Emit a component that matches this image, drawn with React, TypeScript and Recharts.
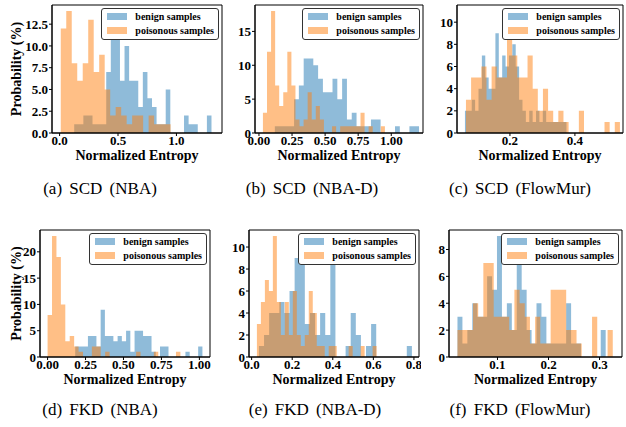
import React from 'react';
import { ComposedChart, Area, XAxis, YAxis, ReferenceArea } from 'recharts';

const FONT = '"Liberation Serif", "Times New Roman", serif';
const BLUE = '#1f77b4';
const ORANGE = '#ff7f0e';

// bin heights (%), bins are equal width over the range
// (a) SCD (NBA)
const scdNbaBenign = [1, 1, 2, 2, 1, 1, 1, 7, 11, 11, 6, 10, 6, 6, 3, 7, 4, 3, 1, 1, 5, 0, 0, 0, 2, 1, 1, 0, 0, 2];
const scdNbaPoison = [12, 14, 8, 6, 8, 13, 7, 9, 5, 2, 3, 2, 1, 2, 2, 0, 2, 1, 1, 1];
const scdNbaBenignRange = [0.125, 1.3];
const scdNbaPoisonRange = [0.01, 0.95];
const scdNbaXTicks = [0, 0.5, 1.0];
const scdNbaYTicks = [0, 2.5, 5, 7.5, 10, 12.5];

// (b) SCD (NBA-D)
const scdNbadBenign = [1, 1, 1, 1, 5, 7, 11, 11, 10, 8, 6, 6, 8, 5, 8, 2, 3, 1, 1, 1, 2, 2, 0, 0, 0, 1, 0, 0, 1, 1];
const scdNbadPoison = [3, 12, 18, 7, 4, 6, 12, 7, 2, 1, 2, 6, 2, 4, 2, 0, 0, 1, 0, 1, 1, 1, 1, 1, 3, 0, 1, 0, 0, 1];
const scdNbadBenignRange = [0.12, 1.21];
const scdNbadPoisonRange = [0.03, 0.952];
const scdNbadXTicks = [0, 0.25, 0.5, 0.75, 1.0];
const scdNbadYTicks = [0, 5, 10, 15];

// (c) SCD (FlowMur)
const scdFlowBenign = [2, 2, 3, 2, 4, 7, 5, 4, 4, 9, 5, 7, 6, 7, 8, 6, 3, 2, 1, 2, 1, 2, 1, 2, 1, 1, 1, 1, 1, 1];
const scdFlowPoison = [3, 5, 5, 6, 3, 6, 5, 5, 11, 7, 5, 5, 7, 4, 2, 4, 2, 1, 2, 1, 0, 0, 2, 0, 0, 0, 0, 1, 0, 1];
const scdFlowBenignRange = [0.0615, 0.374];
const scdFlowPoisonRange = [0.0646, 0.5385];
const scdFlowXTicks = [0.2, 0.4];
const scdFlowYTicks = [0, 2, 4, 6, 8, 10];

// (d) FKD (NBA)
const fkdNbaBenign = [2, 2, 2, 4, 4, 2, 9, 4, 4, 3, 4, 3, 5, 1, 5, 5, 4, 4, 1, 0, 2, 2, 0, 0, 0, 0, 1, 0, 0, 2];
const fkdNbaPoison = [8, 23, 19, 10, 3, 4, 2, 1, 0, 0, 2, 2, 0, 1, 0, 0, 0, 0, 0, 0, 1, 0, 0, 0, 1, 0, 0, 0, 0, 1];
const fkdNbaBenignRange = [0.182, 1.02];
const fkdNbaPoisonRange = [0.0, 0.875];
const fkdNbaXTicks = [0, 0.25, 0.5, 0.75, 1.0];
const fkdNbaYTicks = [0, 5, 10, 15, 20];

// (e) FKD (NBA-D)
const fkdNbadBenign = [1, 2, 4, 4, 5, 4, 6, 9, 10, 3, 4, 2, 4, 2, 10, 0, 0, 1, 4, 2, 0, 1, 3, 0, 0, 0, 0, 0, 0, 1];
const fkdNbadPoison = [3, 5, 7, 6, 11, 5, 2, 5, 2, 6, 2, 1, 2, 6, 4, 1, 1, 0, 1, 1, 0, 0, 0, 1, 0, 0, 1, 0, 0, 1];
const fkdNbadBenignRange = [0.036, 0.79];
const fkdNbadPoisonRange = [0.026, 0.616];
const fkdNbadXTicks = [0, 0.2, 0.4, 0.6, 0.8];
const fkdNbadYTicks = [0, 2, 4, 6, 8, 10];

// (f) FKD (FlowMur)
const fkdFlowBenign = [3, 1, 2, 4, 3, 3, 6, 5, 9, 3, 4, 2, 7, 5, 2, 1, 4, 3, 1, 1, 1, 1, 4, 1, 1, 0, 0, 0, 0, 2];
const fkdFlowPoison = [2, 2, 2, 4, 3, 7, 7, 3, 3, 3, 2, 5, 4, 3, 1, 3, 1, 1, 5, 5, 5, 2, 2, 1, 0, 0, 3, 0, 0, 2];
const fkdFlowBenignRange = [0.0216, 0.312];
const fkdFlowPoisonRange = [0.0216, 0.3259];
const fkdFlowXTicks = [0.1, 0.2, 0.3];
const fkdFlowYTicks = [0, 2, 4, 6, 8];

type Row = { x: number; benign?: number; poison?: number };

// turn bin heights into step points (bin edges), merged for both series
function histRows(benign: number[], bRange: number[], poison: number[], pRange: number[]): Row[] {
  const rows = new Map<number, Row>();
  const add = (heights: number[], range: number[], key: 'benign' | 'poison') => {
    const w = (range[1] - range[0]) / heights.length;
    for (let i = 0; i <= heights.length; i++) {
      const x = +(range[0] + i * w).toFixed(6);
      const r = rows.get(x) ?? { x };
      r[key] = heights[Math.min(i, heights.length - 1)];
      rows.set(x, r);
    }
  };
  add(benign, bRange, 'benign');
  add(poison, pRange, 'poison');
  return [...rows.values()].sort((a, b) => a.x - b.x);
}

const panels = [
  {
    id: 'a', caption: '(a) SCD (NBA)', benign: scdNbaBenign, poison: scdNbaPoison,
    bRange: scdNbaBenignRange, pRange: scdNbaPoisonRange, xDomain: [-0.065, 1.39], xTicks: scdNbaXTicks, xDigits: 1,
    yMax: 14.7, yTicks: scdNbaYTicks, yDigits: 1, left: 52, top: 5, w: 170, h: 128, yw: 52, yLabel: true, cx: 100, cy: 189,
  },
  {
    id: 'b', caption: '(b) SCD (NBA-D)', benign: scdNbadBenign, poison: scdNbadPoison,
    bRange: scdNbadBenignRange, pRange: scdNbadPoisonRange, xDomain: [-0.03, 1.24], xTicks: scdNbadXTicks, xDigits: 2,
    yMax: 18.9, yTicks: scdNbadYTicks, yDigits: 0, left: 255, top: 5, w: 168, h: 128, yw: 30, yLabel: false, cx: 312, cy: 189,
  },
  {
    id: 'c', caption: '(c) SCD (FlowMur)', benign: scdFlowBenign, poison: scdFlowPoison,
    bRange: scdFlowBenignRange, pRange: scdFlowPoisonRange, xDomain: [0.037, 0.548], xTicks: scdFlowXTicks, xDigits: 1,
    yMax: 11.55, yTicks: scdFlowYTicks, yDigits: 0, left: 457, top: 5, w: 166, h: 128, yw: 30, yLabel: false, cx: 520, cy: 189,
  },
  {
    id: 'd', caption: '(d) FKD (NBA)', benign: fkdNbaBenign, poison: fkdNbaPoison,
    bRange: fkdNbaBenignRange, pRange: fkdNbaPoisonRange, xDomain: [-0.05, 1.07], xTicks: fkdNbaXTicks, xDigits: 2,
    yMax: 24.15, yTicks: fkdNbaYTicks, yDigits: 0, left: 40, top: 230, w: 170, h: 127, yw: 40, yLabel: true, cx: 100, cy: 410,
  },
  {
    id: 'e', caption: '(e) FKD (NBA-D)', benign: fkdNbadBenign, poison: fkdNbadPoison,
    bRange: fkdNbadBenignRange, pRange: fkdNbadPoisonRange, xDomain: [-0.013, 0.825], xTicks: fkdNbadXTicks, xDigits: 1,
    yMax: 11.55, yTicks: fkdNbadYTicks, yDigits: 0, left: 249, top: 230, w: 170, h: 127, yw: 30, yLabel: false, cx: 315, cy: 410,
  },
  {
    id: 'f', caption: '(f) FKD (FlowMur)', benign: fkdFlowBenign, poison: fkdFlowPoison,
    bRange: fkdFlowBenignRange, pRange: fkdFlowPoisonRange, xDomain: [0.005, 0.344], xTicks: fkdFlowXTicks, xDigits: 1,
    yMax: 9.45, yTicks: fkdFlowYTicks, yDigits: 0, left: 449, top: 230, w: 173, h: 127, yw: 30, yLabel: false, cx: 520, cy: 410,
  },
];

const PAD = 2;
const XH = 32;
const tickStyle = { fontSize: 13, fontWeight: 700, fill: '#000', fontFamily: FONT };

function LegendBox({ right, top }: { right: number; top: number }) {
  const row = (color: string, text: string) => (
    <div style={{ display: 'flex', alignItems: 'center', height: 14 }}>
      <span style={{ width: 20, height: 7, background: color, opacity: 0.5, marginRight: 8 }} />
      <span>{text}</span>
    </div>
  );
  return (
    <div
      style={{
        position: 'absolute', right: 626 - right, top, padding: '1px 4px 1px 5px',
        border: '1px solid #333', borderRadius: 3, background: '#fff',
        fontFamily: FONT, fontWeight: 700, fontSize: 10, color: '#000', lineHeight: '14px',
      }}
    >
      {row(BLUE, 'benign samples')}
      {row(ORANGE, 'poisonous samples')}
    </div>
  );
}

function HistPanel({ p }: { p: (typeof panels)[number] }) {
  const rows = histRows(p.benign, p.bRange, p.poison, p.pRange);
  const chartLeft = p.left - p.yw;
  return (
    <>
      <div style={{ position: 'absolute', left: chartLeft, top: p.top - PAD }}>
        <ComposedChart
          width={p.yw + p.w + PAD}
          height={PAD + p.h + XH}
          data={rows}
          margin={{ top: PAD, right: PAD, bottom: 0, left: 0 }}
        >
          <XAxis
            type="number"
            dataKey="x"
            domain={p.xDomain}
            allowDataOverflow
            ticks={p.xTicks}
            interval={0}
            tickFormatter={(v: number) => v.toFixed(p.xDigits)}
            tick={tickStyle}
            tickSize={3}
            tickMargin={0}
            height={XH}
            axisLine={{ stroke: '#000' }}
            tickLine={{ stroke: '#000' }}
            label={{
              value: 'Normalized Entropy', position: 'insideBottom', offset: 5,
              fill: '#000', fontSize: 14, fontWeight: 700, fontFamily: FONT,
            }}
          />
          <YAxis
            type="number"
            domain={[0, p.yMax]}
            allowDataOverflow
            ticks={p.yTicks}
            interval={0}
            tickFormatter={(v: number) => v.toFixed(p.yDigits)}
            tick={tickStyle}
            tickSize={3}
            tickMargin={1}
            width={p.yw}
            axisLine={{ stroke: '#000' }}
            tickLine={{ stroke: '#000' }}
            label={
              p.yLabel
                ? {
                    value: 'Probability (%)', angle: -90, position: 'insideLeft', offset: 16 - chartLeft,
                    style: { textAnchor: 'middle' }, fill: '#000', fontSize: 14, fontWeight: 700, fontFamily: FONT,
                  }
                : undefined
            }
          />
          <Area
            type="stepAfter"
            dataKey="benign"
            connectNulls
            stroke="none"
            fill={BLUE}
            fillOpacity={0.5}
            dot={false}
            activeDot={false}
            isAnimationActive={false}
          />
          <Area
            type="stepAfter"
            dataKey="poison"
            connectNulls
            stroke="none"
            fill={ORANGE}
            fillOpacity={0.5}
            dot={false}
            activeDot={false}
            isAnimationActive={false}
          />
          <ReferenceArea
            x1={p.xDomain[0]}
            x2={p.xDomain[1]}
            y1={0}
            y2={p.yMax}
            fill="none"
            stroke="#000"
            strokeWidth={1}
          />
        </ComposedChart>
      </div>
      <LegendBox right={p.left + p.w - 3} top={p.top + 2.5} />
      <div
        style={{
          position: 'absolute', left: p.cx - 110, width: 220, top: p.cy - 10, lineHeight: '20px',
          textAlign: 'center', fontFamily: FONT, fontSize: 17, wordSpacing: 3, color: '#000',
        }}
      >
        {p.caption}
      </div>
    </>
  );
}

export default function App() {
  return (
    <div style={{ position: 'absolute', left: 0, top: 0, width: 626, height: 427, background: '#fff', overflow: 'hidden' }}>
      {panels.map((p) => (
        <HistPanel key={p.id} p={p} />
      ))}
    </div>
  );
}
